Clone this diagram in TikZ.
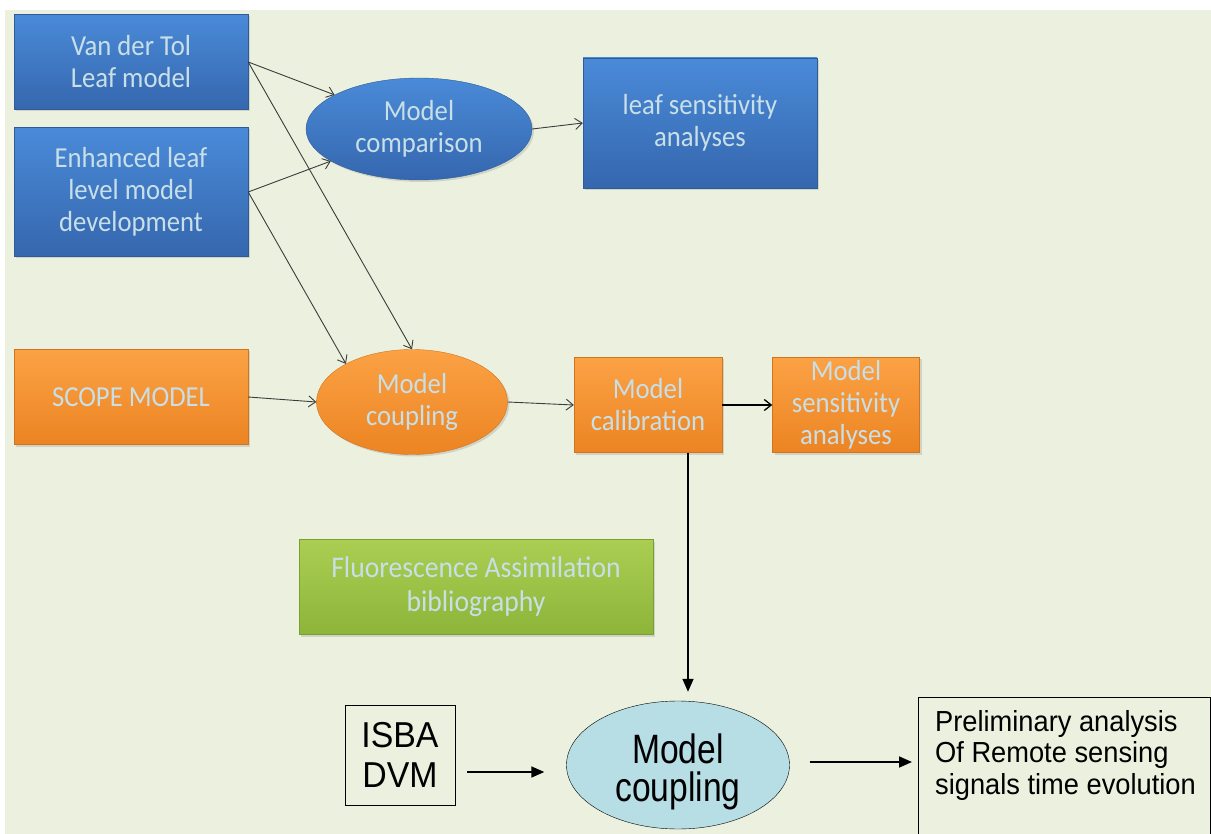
\documentclass[tikz,border=0pt]{standalone}
\usepackage{fontspec}
\setmainfont[FakeStretch=0.92]{Carlito}
\newfontfamily\arialfont[FakeStretch=0.94]{Liberation Sans}
\newfontfamily\arialnarrow[FakeStretch=0.82]{Liberation Sans}
\usetikzlibrary{
    arrows.meta,
    positioning,
    shapes.geometric,
    shadows
}
\definecolor{paper}{HTML}{EBF1DE}
\definecolor{bluetop}{HTML}{4A8AD8}
\definecolor{bluebot}{HTML}{3567AE}
\definecolor{blueline}{HTML}{2E5C98}
\definecolor{orangetop}{HTML}{FBA245}
\definecolor{orangebot}{HTML}{EC8422}
\definecolor{orangeline}{HTML}{D2731E}
\definecolor{greentop}{HTML}{AACE52}
\definecolor{greenbot}{HTML}{8DB53A}
\definecolor{greenline}{HTML}{7C9F32}
\definecolor{paletext}{HTML}{C8DFE8}
\definecolor{cyanfill}{HTML}{B7DDE5}
\definecolor{arrowgrey}{HTML}{3C3C3C}

\begin{document}
\begin{tikzpicture}[
    x=1pt, y=-1pt,
    tile/.style={
        inner sep=0pt,
        align=center,
        text=paletext,
        font=\fontsize{29}{32}\selectfont,
        drop shadow={shadow xshift=2pt, shadow yshift=-2pt, opacity=.25}
    },
    bluebox/.style={
        tile,
        draw=blueline,
        top color=bluetop,
        bottom color=bluebot
    },
    blueoval/.style={
        bluebox,
        ellipse
    },
    orangebox/.style={
        tile,
        draw=orangeline,
        top color=orangetop,
        bottom color=orangebot
    },
    orangeoval/.style={
        orangebox,
        ellipse
    },
    greenbox/.style={
        tile,
        draw=greenline,
        top color=greentop,
        bottom color=greenbot,
        font=\fontsize{30}{34}\selectfont
    },
    plainbox/.style={
        draw,
        thin,
        inner sep=0pt,
        align=center,
        font=\arialfont\fontsize{36}{40}\selectfont
    },
    plainoval/.style={
        plainbox,
        ellipse,
        fill=cyanfill,
        font=\arialnarrow\fontsize{41}{38}\selectfont
    },
    thinarrow/.style={
        -{Straight Barb[length=7pt, width=11pt]},
        draw=arrowgrey,
        line width=0.9pt
    },
    bigarrow/.style={
        -{Triangle[length=13pt, width=11pt]},
        line width=1.6pt
    }
]
\useasboundingbox (0,0) rectangle (1211,834);
\fill[paper] (5,10) rectangle (1211,834);

% leaf model row
\node[bluebox, minimum width=234pt, minimum height=95pt] (vandertol) at (131,62)
    {Van der Tol\\Leaf model};
\node[bluebox, minimum width=234pt, minimum height=129pt] (enhanced) at (131,192)
    {Enhanced leaf\\level model\\development};
\node[blueoval, minimum width=226pt, minimum height=102pt] (comparison) at (419,129)
    {Model\\comparison};
\node[bluebox, minimum width=234pt, minimum height=130pt] (leafsens) at (700,123)
    {leaf sensitivity\\analyses};

% canopy model row
\node[orangebox, minimum width=234pt, minimum height=95pt] (scope) at (131,397)
    {SCOPE MODEL};
\node[orangeoval, minimum width=191pt, minimum height=105pt] (coupling) at (412,402)
    {Model\\coupling};
\node[orangebox, minimum width=148pt, minimum height=95pt] (calibration) at (648,405)
    {Model\\calibration};
\node[orangebox, minimum width=147pt, minimum height=95pt] (modelsens) at (846,405)
    {Model\\sensitivity\\analyses};

\node[greenbox, minimum width=354pt, minimum height=95pt] (fluo) at (476,587)
    {Fluorescence Assimilation\\bibliography};

% land surface part
\node[plainbox, minimum width=110pt, minimum height=100pt] (isba) at (400,755)
    {ISBA\\DVM};
\node[plainoval, minimum width=223pt, minimum height=126pt] (coupling2) at (678,765)
    {\rule{0pt}{44pt}Model\\coupling};
\node[plainbox, anchor=north west, minimum width=292pt, minimum height=170pt,
    label={[anchor=north west, align=left, inner sep=0pt, xshift=17pt, yshift=-13pt,
        font=\arialfont\fontsize{29}{31.5}\selectfont]north west:{Preliminary analysis\\Of Remote sensing\\signals time evolution}}]
    (prelim) at (918,697) {};

\draw[thinarrow] (vandertol.east) -- (comparison.158);
\draw[thinarrow] (vandertol.east) -- (coupling.north);
\draw[thinarrow] (enhanced.east) -- (comparison.200);
\draw[thinarrow] (enhanced.east) -- (coupling.150);
\draw[thinarrow] (comparison.east) -- (leafsens.west);

\draw[thinarrow] (scope.east) -- (coupling.west);
\draw[thinarrow] (coupling.east) -- (calibration.west);
\draw[thinarrow, draw=black, line width=1.3pt] (calibration.east) -- (modelsens.west);

\draw[bigarrow, shorten >=9pt] ([xshift=40pt]calibration.south) -- ([xshift=10pt]coupling2.north);
\draw[bigarrow, shorten <=12pt, shorten >=22pt]
    ([yshift=-17pt]isba.east) -- ([yshift=-17pt]isba.east -| coupling2.west);
\draw[bigarrow, shorten <=20pt, shorten >=6pt]
    ([yshift=3pt]coupling2.east) -- ([yshift=3pt]coupling2.east -| prelim.west);

\end{tikzpicture}
\end{document}
